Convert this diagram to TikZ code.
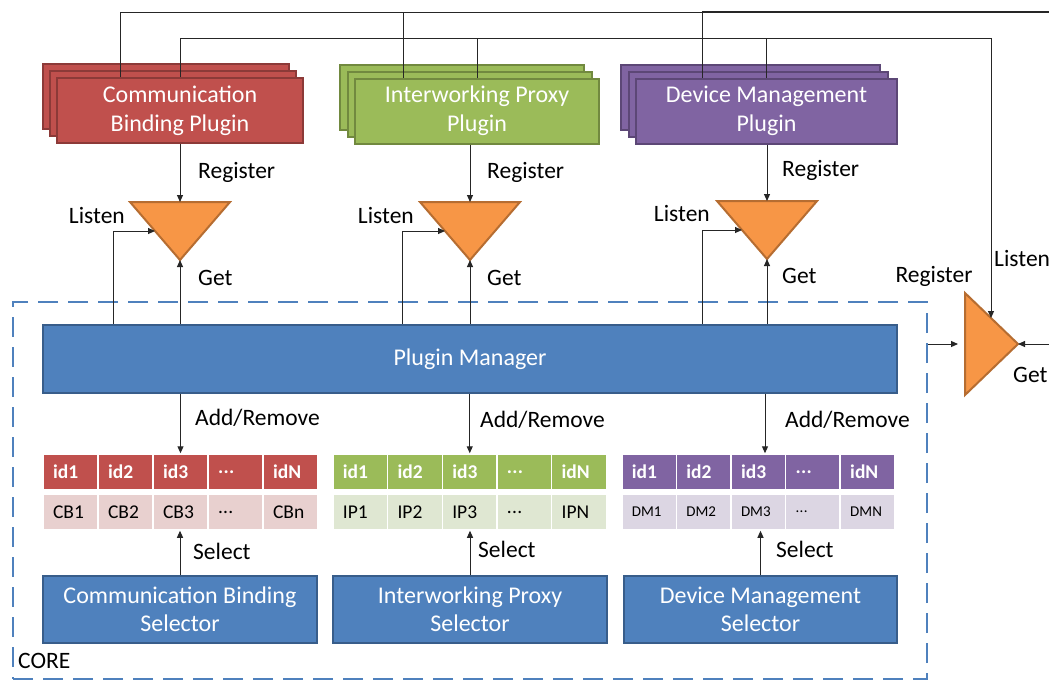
\documentclass[tikz,border=0pt]{standalone}
\usepackage{fontspec}
\setmainfont{Carlito}
\usetikzlibrary{arrows.meta,calc}
\newcommand{\tabdots}{.\kern0.3pt.\kern0.3pt.}
\definecolor{cbred}{HTML}{C0504D}
\definecolor{cbredd}{HTML}{8C3A38}
\definecolor{cbredl}{HTML}{E8D0CF}
\definecolor{ipgreen}{HTML}{9BBB59}
\definecolor{ipgreend}{HTML}{71893F}
\definecolor{ipgreenl}{HTML}{DFE7D2}
\definecolor{dmpurple}{HTML}{8064A2}
\definecolor{dmpurpled}{HTML}{5C4776}
\definecolor{dmpurplel}{HTML}{DCD6E3}
\definecolor{coreblue}{HTML}{4F81BD}
\definecolor{corebluedark}{HTML}{385D8A}
\definecolor{triorange}{HTML}{F79646}
\definecolor{triorangedark}{HTML}{B66D31}
\definecolor{linegray}{HTML}{262626}
\begin{document}
\begin{tikzpicture}[x=1pt,y=-1pt,
 lab/.style={font=\fontsize{23.5}{28}\selectfont, inner sep=0pt},
 plugbox/.style={rectangle, line width=2pt, minimum height=65pt, inner sep=0pt, text=white, align=center, font=\fontsize{24}{29}\selectfont},
 bluebox/.style={rectangle, fill=coreblue, draw=corebluedark, line width=2pt, inner sep=0pt, text=white, align=center, font=\fontsize{24}{28}\selectfont},
 cell/.style={rectangle, draw=white, line width=1.5pt, minimum height=36pt, text width=35pt, inner xsep=10pt, inner ysep=0pt, align=left},
 hcell/.style={cell, text=white, font=\bfseries\fontsize{19.5}{22}\selectfont},
 bcell/.style={cell, text=black, font=\fontsize{19.5}{22}\selectfont},
 conn/.style={draw=linegray, line width=1pt},
 arr/.style={conn, -{Triangle[length=7pt,width=6pt]}},
 tri/.style={fill=triorange, draw=triorangedark, line width=2pt, line join=miter}
]
\fill[white] (0,0) rectangle (1049,681);
\useasboundingbox (0,0) rectangle (1049,681);

% CORE box
\node[draw=coreblue, line width=2.5pt, dash pattern=on 20pt off 10pt, minimum width=914pt, minimum height=377pt, inner sep=0pt] (core) at (470,490.5) {};
\node[lab, anchor=west] (corelab) at (18,661) {CORE};

% plugin stacks
\node[plugbox, fill=cbred, draw=cbredd, minimum width=246pt] (cbp3) at (166,96.5) {};
\node[plugbox, fill=cbred, draw=cbredd, minimum width=246pt] (cbp2) at (173,103.5) {};
\node[plugbox, fill=cbred, draw=cbredd, minimum width=246pt] (cbp) at (180,110.5) {Communication\\Binding Plugin};

\node[plugbox, fill=ipgreen, draw=ipgreend, minimum width=244pt] (ipp3) at (462,97) {};
\node[plugbox, fill=ipgreen, draw=ipgreend, minimum width=244pt] (ipp2) at (470,104) {};
\node[plugbox, fill=ipgreen, draw=ipgreend, minimum width=244pt] (ipp) at (477,111) {Interworking Proxy\\Plugin};

\node[plugbox, fill=dmpurple, draw=dmpurpled, minimum width=259pt] (dmp3) at (750,97) {};
\node[plugbox, fill=dmpurple, draw=dmpurpled, minimum width=259pt] (dmp2) at (758,104) {};
\node[plugbox, fill=dmpurple, draw=dmpurpled, minimum width=261pt] (dmp) at (766.5,111) {Device Management\\Plugin};

% triangles (pointing down)
\coordinate (cbtL) at (130,202); \coordinate (cbtR) at (230,202); \coordinate (cbtB) at (180,260);
\coordinate (cbtTop) at (180,202); \coordinate (cbtIn) at (155,231);
\coordinate (iptL) at (420,202); \coordinate (iptR) at (520,202); \coordinate (iptB) at (470,260);
\coordinate (iptTop) at (470,202); \coordinate (iptIn) at (445,231);
\coordinate (dmtL) at (717,201); \coordinate (dmtR) at (817,201); \coordinate (dmtB) at (767,259);
\coordinate (dmtTop) at (767,201); \coordinate (dmtIn) at (742,230);
\draw[tri] (cbtL) -- (cbtR) -- (cbtB) -- cycle;
\draw[tri] (iptL) -- (iptR) -- (iptB) -- cycle;
\draw[tri] (dmtL) -- (dmtR) -- (dmtB) -- cycle;

% right triangle (pointing right)
\coordinate (rtT) at (965,293); \coordinate (rtB) at (965,395); \coordinate (rtTip) at (1018,344);
\coordinate (rtIn) at (991,318); \coordinate (rtReg) at (958,344);
\draw[tri] (rtT) -- (rtTip) -- (rtB) -- cycle;

% plugin manager
\node[bluebox, minimum width=854pt, minimum height=68pt] (pm) at (470,359) {Plugin Manager};

% tables
\foreach \i/\h/\b in {1/id1/CB1,2/id2/CB2,3/id3/CB3,4/\tabdots/\tabdots,5/idN/CBn} {
  \node[hcell, fill=cbred] (cbh\i) at ({43+55*(\i-0.5)},472) {\h};
  \node[bcell, fill=cbredl] (cbr\i) at ({43+55*(\i-0.5)},512) {\b};
}
\foreach \i/\h/\b in {1/id1/IP1,2/id2/IP2,3/id3/IP3,4/\tabdots/\tabdots,5/idN/IPN} {
  \node[hcell, fill=ipgreen] (iph\i) at ({333+54.7*(\i-0.5)},472) {\h};
  \node[bcell, fill=ipgreenl] (ipr\i) at ({333+54.7*(\i-0.5)},512) {\b};
}
\foreach \i/\h/\b in {1/id1/DM1,2/id2/DM2,3/id3/DM3,4/\tabdots/\tabdots,5/idN/DMN} {
  \node[hcell, fill=dmpurple] (dmh\i) at ({622+54.6*(\i-0.5)},472) {\h};
  \node[bcell, fill=dmpurplel, font=\fontsize{15}{18}\selectfont] (dmr\i) at ({622+54.6*(\i-0.5)},512) {\b};
}

% selectors
\node[bluebox, minimum width=274pt, minimum height=67pt] (cbs) at (180,609.5) {Communication Binding\\Selector};
\node[bluebox, minimum width=274pt, minimum height=67pt] (ips) at (470,609.5) {Interworking Proxy\\Selector};
\node[bluebox, minimum width=273pt, minimum height=67pt] (dms) at (760.5,609.5) {Device Management\\Selector};

% top lines
\coordinate (edgeA) at (1049,12);
\coordinate (edgeG) at (1049,344);
\draw[conn] ([xshift=-60pt]cbp.north) -- (120,12) -- (702,12);
\draw[conn, line width=1.6pt] (702,12) -- (edgeA);
\draw[conn] ([xshift=-74pt]ipp.north) -- (403,12);
\draw[conn] ([xshift=-64.5pt]dmp.north) -- (702,12);
\draw[arr] (cbp.north) |- (991,38) -- (rtIn);
\draw[conn] (ipp.north) -- (ipp.north |- 0,38);
\draw[conn] (dmp.north) -- (dmp.north |- 0,38);

% register arrows
\draw[arr] (cbp.south -| cbtTop) -- (cbtTop);
\draw[arr] (ipp.south -| iptTop) -- (iptTop);
\draw[arr] (dmp.south -| dmtTop) -- (dmtTop);

% get arrows
\draw[arr] (pm.north -| cbtB) -- (cbtB);
\draw[arr] (pm.north -| iptB) -- (iptB);
\draw[arr] (pm.north -| dmtB) -- (dmtB);

% listen arrows
\draw[arr] (113,0 |- pm.north) |- (cbtIn);
\draw[arr] (402,0 |- pm.north) |- (iptIn);
\draw[arr] (702,0 |- pm.north) |- (dmtIn);

% right triangle arrows
\draw[arr] (core.east |- rtTip) -- (rtReg);
\draw[arr] (edgeG) -- (rtTip);

% add/remove
\draw[arr] (pm.south -| cbh3) -- (cbh3.north);
\draw[arr] (pm.south -| iph3) -- (iph3.north);
\draw[arr] (765,0 |- pm.south) -- (765,0 |- dmh3.north);

% select
\draw[arr] (cbs.north) -- (cbs.north |- cbr3.south);
\draw[arr] (ips.north) -- (ips.north |- ipr3.south);
\draw[arr] (dms.north) -- (dms.north |- dmr3.south);

% labels
\node[lab, anchor=west] (l1) at (198,172) {Register};
\node[lab, anchor=east] (l2) at (125,215) {Listen};
\node[lab, anchor=west] (l3) at (198,278) {Get};
\node[lab, anchor=west] (l4) at (487,172) {Register};
\node[lab, anchor=east] (l5) at (414,215) {Listen};
\node[lab, anchor=west] (l6) at (487,278) {Get};
\node[lab, anchor=west] (l7) at (782,170) {Register};
\node[lab, anchor=east] (l8) at (710,213) {Listen};
\node[lab, anchor=west] (l9) at (782,276) {Get};
\node[lab] (l10) at (934,276) {Register};
\node[lab, anchor=west] (l11) at (994,258) {Listen};
\node[lab, anchor=west] (l12) at (1013,375) {Get};
\node[lab, anchor=west] (l13) at (195,418) {Add/Remove};
\node[lab, anchor=west] (l14) at (480,420) {Add/Remove};
\node[lab, anchor=west] (l15) at (785,420) {Add/Remove};
\node[lab, anchor=west] (l16) at (193,551) {Select};
\node[lab, anchor=west] (l17) at (478,549) {Select};
\node[lab, anchor=west] (l18) at (776,549) {Select};
\end{tikzpicture}
\end{document}
